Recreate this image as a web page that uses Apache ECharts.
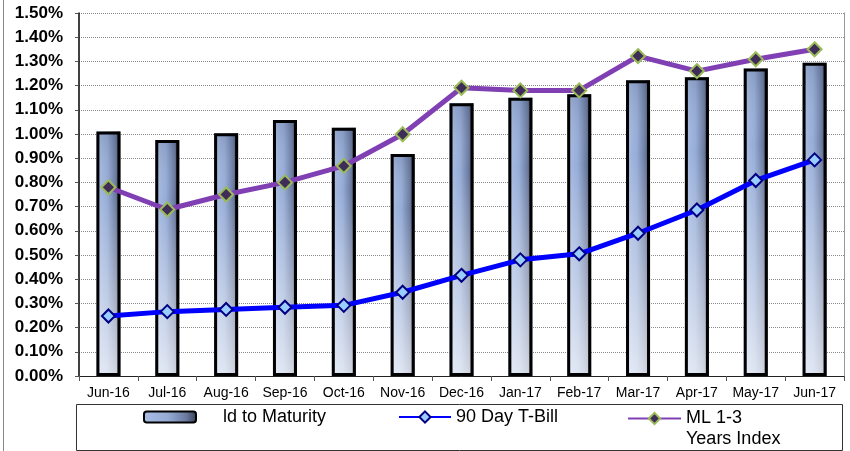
<!DOCTYPE html>
<html>
<head>
<meta charset="utf-8">
<script src="https://cdn.jsdelivr.net/npm/echarts@6/dist/echarts.min.js"></script>
<style>
  html, body { margin: 0; padding: 0; background: #fff; }
  #chart { width: 850px; height: 451px; }
</style>
</head>
<body>
<div id="chart"></div>
<script>
const months = ['Jun-16', 'Jul-16', 'Aug-16', 'Sep-16', 'Oct-16', 'Nov-16', 'Dec-16',
  'Jan-17', 'Feb-17', 'Mar-17', 'Apr-17', 'May-17', 'Jun-17']
const yieldToMaturity = [1.01, 0.975, 1.003, 1.058, 1.026, 0.917, 1.127, 1.15, 1.164, 1.222, 1.234, 1.271, 1.294]
const tBill90 = [0.248, 0.266, 0.275, 0.284, 0.292, 0.346, 0.416, 0.48, 0.505, 0.59, 0.686, 0.808, 0.893]
const mlIndex = [0.78, 0.688, 0.75, 0.8, 0.868, 0.999, 1.191, 1.18, 1.18, 1.322, 1.26, 1.309, 1.35]

const font = '"Liberation Sans", Arial, sans-serif'
const ytmName = 'ld to Maturity'
const tbName = '90 Day T-Bill'
const mlName = 'ML 1-3 Years Index'

const chart = echarts.init(document.getElementById('chart'))

const barFill = new echarts.graphic.LinearGradient(0, 0, 1, 0, [
  { offset: 0, color: '#a9bde4' },
  { offset: 0.45, color: '#96acd6' },
  { offset: 0.8, color: '#6a7aa0' },
  { offset: 1, color: '#363d52' },
])
const barShade = new echarts.graphic.LinearGradient(0, 0, 0, 1, [
  { offset: 0, color: 'rgba(40,50,80,0.15)' },
  { offset: 0.25, color: 'rgba(255,255,255,0)' },
  { offset: 1, color: 'rgba(255,255,255,0.7)' },
])

const option = {
  animation: false,
  textStyle: { fontFamily: font },
  grid: { left: 79, top: 13, width: 765, height: 363 },
  graphic: [
    { type: 'line', z: 0, shape: { x1: 3.5, y1: 0, x2: 3.5, y2: 451 }, style: { stroke: '#888', lineWidth: 1 } },
    { type: 'rect', z: 0, shape: { x: 76.5, y: 404.5, width: 766, height: 46 }, style: { fill: '#fff', stroke: '#333', lineWidth: 1 } },
  ],
  legend: [
    {
      data: [{ name: ytmName, itemStyle: { borderColor: '#000', borderWidth: 2 } }],
      left: 143, top: 408, padding: 0,
      itemWidth: 52, itemHeight: 11,
      textStyle: { fontSize: 18, color: '#000', padding: [0, 0, 0, 22] },
    },
    {
      data: [tbName],
      left: 398, top: 408, padding: 0,
      itemWidth: 52, itemHeight: 14,
      textStyle: { fontSize: 18, color: '#000' },
    },
    {
      data: [mlName],
      left: 627, top: 387, padding: 0,
      itemWidth: 53, itemHeight: 14,
      formatter: () => ' \nML 1-3\nYears Index',
      textStyle: { fontSize: 18, color: '#000', lineHeight: 21 },
    },
  ],
  xAxis: {
    type: 'category',
    data: months,
    axisLine: { lineStyle: { color: '#222', width: 1 } },
    axisTick: { show: true, length: 5, lineStyle: { color: '#555' } },
    axisLabel: { fontSize: 14, color: '#000', margin: 10, interval: 0 },
  },
  yAxis: [
    {
      type: 'value',
      min: 0,
      max: 1.5,
      interval: 0.1,
      axisLine: { show: true, lineStyle: { color: '#000', width: 1.5 } },
      axisTick: { show: true, length: 4, lineStyle: { color: '#555' } },
      axisLabel: {
        fontSize: 17, fontWeight: 'bold', color: '#000', margin: 16,
        formatter: (v) => v.toFixed(2) + '%',
      },
      splitLine: { show: true, lineStyle: { color: '#8a8a8a', type: 'dotted', width: 1 } },
    },
    {
      type: 'value',
      position: 'right',
      min: 0,
      max: 1.5,
      interval: 0.1,
      axisLine: { show: true, lineStyle: { color: '#999', width: 1 } },
      axisTick: { show: false },
      axisLabel: { show: false },
      splitLine: { show: false },
    },
  ],
  series: [
    {
      name: ytmName,
      type: 'bar',
      data: yieldToMaturity,
      barWidth: 24,
      itemStyle: { color: barFill },
      z: 2,
    },
    {
      name: 'shade',
      type: 'bar',
      data: yieldToMaturity,
      barWidth: 24,
      barGap: '-100%',
      silent: true,
      itemStyle: { color: barShade, borderColor: '#000', borderWidth: 3 },
      z: 2,
    },
    {
      name: tbName,
      type: 'line',
      data: tBill90,
      symbol: 'diamond',
      symbolSize: 13,
      lineStyle: { color: '#0000ff', width: 5 },
      itemStyle: { color: '#99ccff', borderColor: '#000080', borderWidth: 2 },
      z: 4,
    },
    {
      name: mlName,
      type: 'line',
      data: mlIndex,
      symbol: 'diamond',
      symbolSize: 14,
      lineStyle: { color: '#8040b4', width: 5 },
      itemStyle: { color: '#3f2d58', borderColor: '#9bbb59', borderWidth: 2 },
      z: 4,
    },
  ],
}

chart.setOption(option)
</script>
</body>
</html>
